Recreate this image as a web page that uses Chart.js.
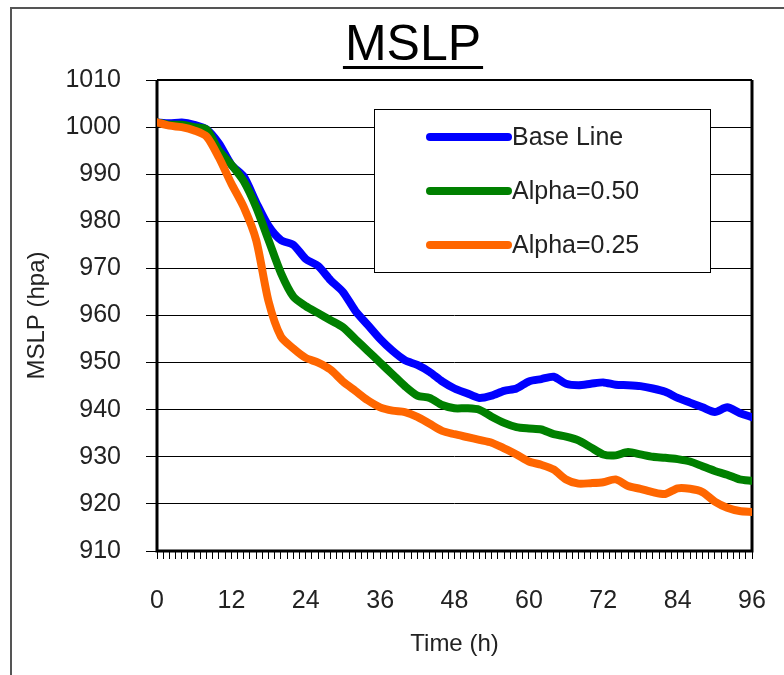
<!DOCTYPE html>
<html lang="en">
<head>
    <meta charset="UTF-8">
    <title>MSLP</title>
    <script src="https://cdn.jsdelivr.net/npm/chart.js"></script>
    <style>
        html, body { margin: 0; padding: 0; background: #fff; }
        .chart-container { position: relative; width: 784px; height: 675px; }
    </style>
</head>
<body>
    <div class="chart-container">
        <canvas id="mslpChart"></canvas>
    </div>

    <script>
        // data (every 2 h)
        const hours = [0, 2, 4, 6, 8, 10, 12, 14, 16, 18, 20, 22, 24, 26, 28, 30, 32, 34, 36, 38, 40, 42, 44, 46, 48,
                       50, 52, 54, 56, 58, 60, 62, 64, 66, 68, 70, 72, 74, 76, 78, 80, 82, 84, 86, 88, 90, 92, 94, 96];
        const baseLine = [1001, 1000.8, 1001, 1000.5, 999.5, 996.5, 992, 989.5, 984, 979, 976, 975, 972, 970.5, 967.5, 965, 961, 958, 955, 952.5, 950.5, 949.5, 948, 946, 944.5,
                          943.5, 942.5, 943, 944, 944.5, 946, 946.5, 947, 945.5, 945.2, 945.5, 945.8, 945.3, 945.2, 945, 944.5, 943.8, 942.5, 941.5, 940.5, 939.5, 940.5, 939.3, 938.4];
        const alpha050 = [1001, 1000.5, 1000.5, 1000, 999.5, 995, 992, 988.5, 983, 976, 969, 964, 962, 960.5, 959, 957.5, 955, 952.5, 950, 947.5, 945, 943, 942.5, 941, 940.3,
                          940.3, 940, 938.5, 937.2, 936.3, 936, 935.8, 934.8, 934.3, 933.5, 932, 930.5, 930.3, 931, 930.5, 930, 929.8, 929.5, 929, 928, 927, 926.2, 925.2, 924.9];
        const alpha025 = [1001, 1000.3, 1000, 999.3, 998, 993.5, 988, 983, 976, 963, 955.5, 953, 951, 950, 948.5, 946, 944, 942, 940.5, 939.8, 939.5, 938.5, 937, 935.5, 934.8,
                          934.2, 933.6, 933, 931.8, 930.5, 929, 928.3, 927.3, 925.2, 924.3, 924.4, 924.6, 925.2, 923.8, 923.2, 922.5, 922.1, 923.3, 923.2, 922.5, 920.5, 919.2, 918.5, 918.3];
        const seriesNames = ['Base Line', 'Alpha=0.50', 'Alpha=0.25'];
        const seriesColors = ['#0000ff', '#008000', '#ff6600'];
        const yMin = 910, yMax = 1010, yStep = 10;
        const xMin = 0, xMax = 96, xLabelStep = 12;

        const FONT = "'Liberation Sans', Arial, sans-serif";

        const toPoints = arr => arr.map((v, i) => ({ x: hours[i], y: v }));

        // frame, plot box, title and legend
        const decor = {
            id: 'decor',
            beforeDraw(chart) {
                const ctx = chart.ctx;
                ctx.save();
                ctx.strokeStyle = '#555';
                ctx.lineWidth = 2;
                ctx.beginPath();
                ctx.moveTo(11, chart.height);
                ctx.lineTo(11, 8);
                ctx.lineTo(chart.width, 8);
                ctx.stroke();
                ctx.restore();
            },
            beforeDatasetsDraw(chart) {
                const ctx = chart.ctx, a = chart.chartArea;
                ctx.save();
                ctx.strokeStyle = '#000';
                ctx.lineWidth = 2;
                ctx.beginPath();
                ctx.moveTo(a.left, a.top);
                ctx.lineTo(a.right, a.top);
                ctx.stroke();
                ctx.lineWidth = 3;
                ctx.beginPath();
                ctx.moveTo(a.left, a.top);
                ctx.lineTo(a.left, a.bottom);
                ctx.lineTo(a.right, a.bottom);
                ctx.lineTo(a.right, a.top);
                ctx.stroke();
                ctx.restore();
            },
            afterDraw(chart) {
                const ctx = chart.ctx, a = chart.chartArea;
                ctx.save();
                // title
                ctx.font = '50px ' + FONT;
                ctx.fillStyle = '#000';
                ctx.textAlign = 'center';
                ctx.textBaseline = 'alphabetic';
                const tx = 413, ty = 60;
                ctx.fillText('MSLP', tx, ty);
                const tw = ctx.measureText('MSLP').width;
                ctx.fillRect(tx - tw / 2 - 2, 66, tw + 4, 3);

                // legend box
                const bx = a.left + 217, by = a.top + 29, bw = 336, bh = 163;
                ctx.fillStyle = '#fff';
                ctx.fillRect(bx, by, bw, bh);
                ctx.strokeStyle = '#000';
                ctx.lineWidth = 1;
                ctx.strokeRect(bx + 0.5, by + 0.5, bw, bh);
                ctx.font = '25px ' + FONT;
                ctx.textAlign = 'left';
                ctx.textBaseline = 'middle';
                ctx.lineCap = 'round';
                seriesNames.forEach((name, i) => {
                    const ry = by + 28 + i * 54;
                    ctx.strokeStyle = seriesColors[i];
                    ctx.lineWidth = 8;
                    ctx.beginPath();
                    ctx.moveTo(bx + 56, ry);
                    ctx.lineTo(bx + 134, ry);
                    ctx.stroke();
                    ctx.fillStyle = '#222';
                    ctx.fillText(name, bx + 138, ry + 1);
                });
                ctx.restore();
            }
        };

        const ctx = document.getElementById('mslpChart').getContext('2d');
        new Chart(ctx, {
            type: 'line',
            data: {
                datasets: [baseLine, alpha050, alpha025].map((arr, i) => ({
                    label: seriesNames[i],
                    data: toPoints(arr),
                    borderColor: seriesColors[i],
                    backgroundColor: seriesColors[i],
                    borderWidth: 8,
                    pointRadius: 0,
                    tension: 0.25,
                    borderCapStyle: 'round',
                    borderJoinStyle: 'round',
                    fill: false,
                    order: 3 - i
                }))
            },
            options: {
                responsive: true,
                maintainAspectRatio: false,
                animation: false,
                layout: { padding: { top: 80, right: 32, left: 0, bottom: 0 } },
                plugins: {
                    legend: { display: false },
                    title: { display: false },
                    tooltip: { enabled: false }
                },
                scales: {
                    x: {
                        type: 'linear',
                        min: xMin,
                        max: xMax,
                        afterBuildTicks: scale => {
                            const t = [];
                            for (let h = xMin; h <= xMax; h++) t.push({ value: h });
                            scale.ticks = t;
                        },
                        afterFit: scale => {
                            scale.height = 124;
                            scale.paddingLeft = 0;
                            scale.paddingRight = 0;
                        },
                        ticks: {
                            autoSkip: false,
                            maxRotation: 0,
                            padding: 27,
                            color: '#222',
                            font: { family: FONT, size: 25 },
                            callback: v => (v % xLabelStep === 0 ? String(v) : '')
                        },
                        grid: {
                            drawOnChartArea: false,
                            drawTicks: true,
                            tickLength: 8,
                            color: '#000',
                            lineWidth: 1
                        },
                        border: { display: false },
                        title: {
                            display: true,
                            text: 'Time (h)',
                            color: '#222',
                            font: { family: FONT, size: 24 },
                            padding: { top: 0, bottom: 16 }
                        }
                    },
                    y: {
                        min: yMin,
                        max: yMax,
                        afterFit: scale => {
                            scale.width = 157;
                            scale.paddingTop = 0;
                            scale.paddingBottom = 0;
                        },
                        ticks: {
                            stepSize: yStep,
                            padding: 25,
                            color: '#222',
                            font: { family: FONT, size: 25 },
                            callback: v => String(v)
                        },
                        grid: {
                            color: '#000',
                            lineWidth: 1,
                            drawTicks: true,
                            tickLength: 11
                        },
                        border: { display: false },
                        title: {
                            display: true,
                            text: 'MSLP (hpa)',
                            color: '#222',
                            font: { family: FONT, size: 24 },
                            padding: { top: 23, bottom: 0 }
                        }
                    }
                }
            },
            plugins: [decor]
        });
    </script>
</body>
</html>
